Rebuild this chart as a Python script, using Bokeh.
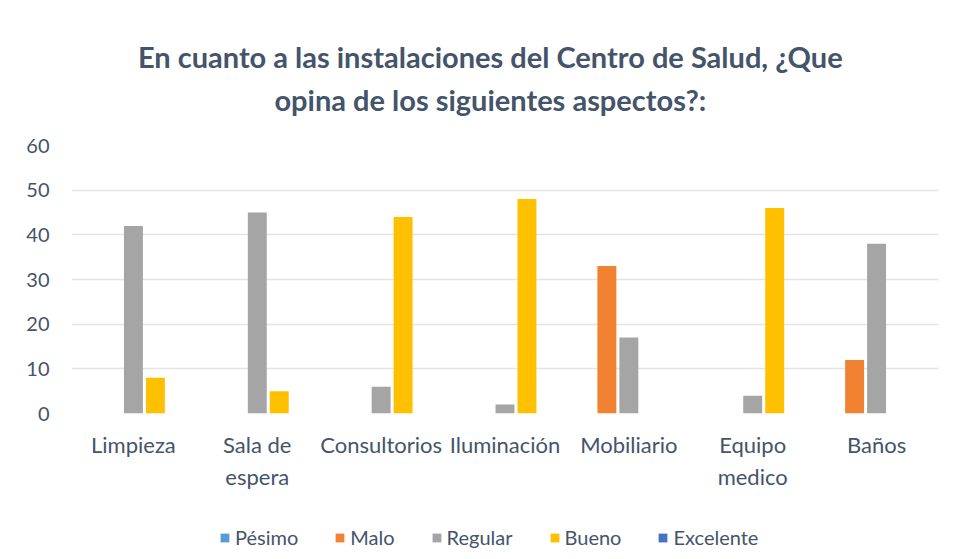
from bokeh.plotting import figure
from bokeh.models import FactorRange, Range1d, Legend, LegendItem, Label
from bokeh.layouts import column
from bokeh.transform import dodge
from bokeh.embed import file_html
from bokeh.resources import INLINE

categories = ["Limpieza", "Sala de\nespera", "Consultorios", "Iluminación", "Mobiliario", "Equipo\nmedico", "Baños"]
series = ["Pésimo", "Malo", "Regular", "Bueno", "Excelente"]
pesimo = [0, 0, 0, 0, 0, 0, 0]
malo = [0, 0, 0, 0, 33, 0, 12]
regular = [42, 45, 6, 2, 17, 4, 38]
bueno = [8, 5, 44, 48, 0, 46, 0]
excelente = [0, 0, 0, 0, 0, 0, 0]
values = [pesimo, malo, regular, bueno, excelente]
colors = ["#5B9BD5", "#F08232", "#A5A5A5", "#FFC000", "#4472C4"]
y_ticks = [0, 10, 20, 30, 40, 50, 60]
title_lines = ["En cuanto a las instalaciones del Centro de Salud, ¿Que",
               "opina de los siguientes aspectos?:"]

FONT = "Lato"
TXT = "#44546A"
W = 944

# --- title block ---
tf = figure(width=W, height=120, output_backend="svg", toolbar_location=None,
            x_axis_type=None, y_axis_type=None, x_range=Range1d(0, W), y_range=Range1d(0, 120),
            min_border=0, outline_line_color=None)
tf.title = None
for yy, line in zip([64, 21], title_lines):
    tf.add_layout(Label(x=456, y=yy, text=line, text_align="center", text_baseline="middle",
                        text_font=FONT, text_font_style="bold", text_font_size="29px",
                        text_color=TXT))

# --- main chart ---
p = figure(width=W, height=380, output_backend="svg", toolbar_location=None,
           x_range=FactorRange(*categories, range_padding=0), y_range=Range1d(0, 60),
           min_border_left=71, min_border_right=6, min_border_top=25, min_border_bottom=87)
p.title = None

step = 0.1774
width = 0.153
sources = []
for i, (name, vals, col) in enumerate(zip(series, values, colors)):
    src = {"x": categories, "top": vals}
    sources.append(src)
    p.vbar(x=dodge("x", (i - 2) * step, range=p.x_range), top="top", width=width,
           source=src, fill_color=col, line_color=None)

p.xaxis.axis_line_color = None
p.yaxis.axis_line_color = None
p.xaxis.major_tick_line_color = None
p.yaxis.major_tick_line_color = None
p.yaxis.minor_tick_line_color = None
p.yaxis.ticker = y_ticks
p.xgrid.grid_line_color = None
p.ygrid.grid_line_color = "#E1E4E9"
p.ygrid.grid_line_width = 1.5
p.xaxis.major_label_text_font = FONT
p.yaxis.major_label_text_font = FONT
p.xaxis.major_label_text_font_size = "22px"
p.yaxis.major_label_text_font_size = "20px"
p.xaxis.major_label_text_color = TXT
p.yaxis.major_label_text_color = TXT
p.yaxis.major_label_standoff = 16
p.xaxis.major_label_standoff = 11
p.outline_line_color = None

# --- legend block ---
lf = figure(width=W, height=54, output_backend="svg", toolbar_location=None,
            x_axis_type=None, y_axis_type=None,
            x_range=FactorRange(*categories, range_padding=0), y_range=Range1d(1000, 1001),
            min_border=0, outline_line_color=None)
lf.title = None
items = []
for i, (name, src, col) in enumerate(zip(series, sources, colors)):
    r = lf.vbar(x=dodge("x", (i - 2) * step, range=lf.x_range), top="top", width=width,
                source=src, fill_color=col, line_color=None)
    items.append(LegendItem(label=name, renderers=[r]))

legend = Legend(items=items, orientation="horizontal", location=(148, 5),
                label_text_font=FONT, label_text_font_size="20px", label_text_color=TXT,
                glyph_width=11, glyph_height=11, label_standoff=5, spacing=36,
                border_line_color=None, background_fill_alpha=0)
lf.add_layout(legend)

layout = column(tf, p, lf, spacing=0)
open("out.html", "w").write(file_html(layout, INLINE))
